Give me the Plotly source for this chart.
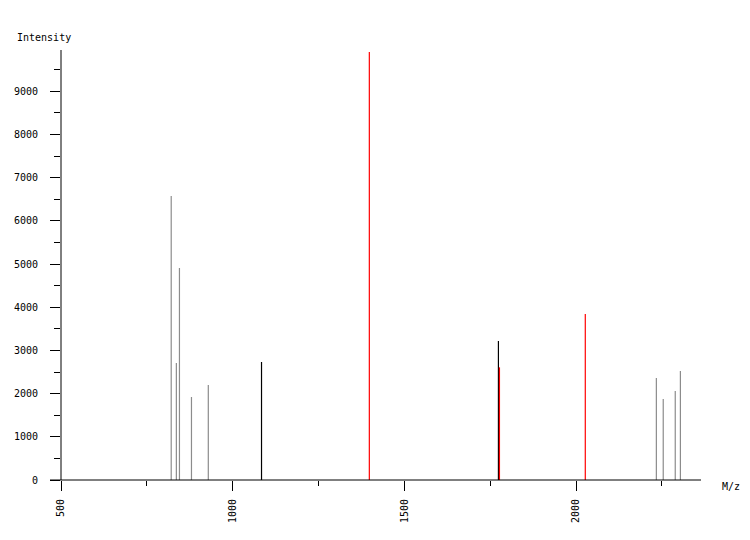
import plotly.graph_objects as go

# Peak data (m/z, intensity) by colour group
gray_mz = [821, 836, 845, 880, 929, 2234, 2254, 2289, 2304]
gray_int = [6574, 2708, 4907, 1921, 2199, 2361, 1875, 2060, 2523]
black_mz = [1084, 1774]
black_int = [2731, 3218]
red_mz = [1398, 1777, 2027]
red_int = [9907, 2608, 3843]

x_ticks = [500, 1000, 1500, 2000]
y_ticks = [0, 1000, 2000, 3000, 4000, 5000, 6000, 7000, 8000, 9000]

def stems(mz, inten):
    xs, ys = [], []
    for m, i in zip(mz, inten):
        xs += [m, m, None]
        ys += [0, i, None]
    return xs, ys

fig = go.Figure()
for mz, inten, col in [(gray_mz, gray_int, "rgb(140,140,140)"),
                       (black_mz, black_int, "black"),
                       (red_mz, red_int, "rgb(255,0,0)")]:
    xs, ys = stems(mz, inten)
    fig.add_trace(go.Scatter(x=xs, y=ys, mode="lines",
                             line=dict(color=col, width=1.2),
                             hoverinfo="skip", showlegend=False))

font = dict(family="DejaVu Sans Mono", size=10, color="black")

fig.update_layout(
    width=750, height=540,
    margin=dict(l=61, r=49, t=50, b=60),
    plot_bgcolor="white", paper_bgcolor="white",
    font=font,
    xaxis=dict(range=[500, 2364], tickvals=x_ticks, ticktext=[str(v) for v in x_ticks],
               ticks="outside", ticklen=10, tickcolor="black", tickwidth=1,
               tickangle=-90, showgrid=False, zeroline=False, showline=False,
               minor=dict(dtick=250, tick0=500, ticks="outside", ticklen=5,
                          tickcolor="black", tickwidth=1),
               ticklabelstandoff=4),
    yaxis=dict(range=[0, 9954], tickvals=y_ticks, ticktext=[str(v) for v in y_ticks],
               ticks="outside", ticklen=10, tickcolor="black", tickwidth=1,
               showgrid=False, zeroline=False, showline=False,
               minor=dict(dtick=500, tick0=0, ticks="outside", ticklen=6,
                          tickcolor="black", tickwidth=1),
               ticklabelstandoff=10),
    shapes=[
        dict(type="line", xref="paper", yref="paper", x0=-11/640, x1=1, y0=0, y1=0,
             line=dict(color="black", width=1)),
        dict(type="line", xref="paper", yref="paper", x0=0, x1=0, y0=0, y1=1,
             line=dict(color="black", width=1)),
    ],
    annotations=[
        dict(text="Intensity", xref="paper", yref="paper", x=-46/640, y=1.030,
             xanchor="left", yanchor="middle", showarrow=False, font=font),
        dict(text="M/z", xref="paper", yref="paper", x=1.0297, y=-0.016,
             xanchor="left", yanchor="middle", showarrow=False, font=font),
    ],
)

fig.write_html("out.html", config={"displayModeBar": False},
               post_script="document.body.style.margin='0';document.body.style.padding='0';")
